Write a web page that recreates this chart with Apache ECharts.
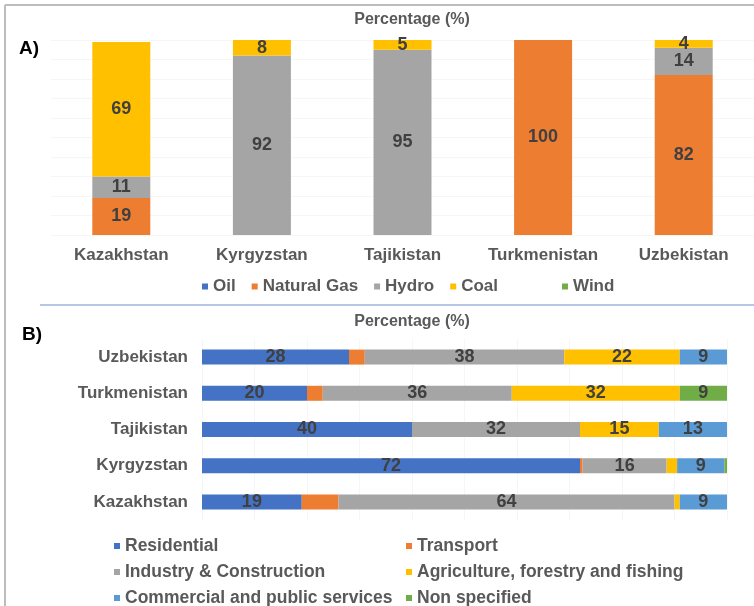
<!DOCTYPE html>
<html>
<head>
<meta charset="utf-8">
<script src="https://cdn.jsdelivr.net/npm/echarts@6/dist/echarts.min.js"></script>
<style>
  html, body { margin: 0; padding: 0; background: #fff; }
  #main { width: 754px; height: 606px; }
</style>
</head>
<body>
<div id="main"></div>
<script>
// 图A：电力来源（按国家）
var countries = ['Kazakhstan', 'Kyrgyzstan', 'Tajikistan', 'Turkmenistan', 'Uzbekistan'];
var oil = [0, 0, 0, 0, 0];
var naturalGas = [19, 0, 0, 100, 82];
var hydro = [11, 92, 95, 0, 14];
var coal = [69, 8, 5, 0, 4];
var wind = [0, 0, 0, 0, 0];

// 图B：终端消费（按部门）
var residential = [19, 72, 40, 20, 28];
var transport = [7, 0.5, 0, 3, 3];
var industry = [64, 16, 32, 36, 38];
var agriculture = [1, 2, 15, 32, 22];
var commercial = [9, 9, 13, 0, 9];
var nonSpecified = [0, 0.5, 0, 9, 0];

var FONT = 'Liberation Sans';
var GREY = '#595959';

var myChart = echarts.init(document.getElementById('main'));

function barA(name, data, color) {
    return {
        type: 'bar', name: name, stack: 'a', xAxisIndex: 0, yAxisIndex: 0,
        data: data, barWidth: 58,
        itemStyle: { color: color },
        label: {
            show: true, position: 'inside',
            color: '#404040', fontFamily: FONT, fontSize: 18, fontWeight: 'bold',
            formatter: function (p) { return p.value > 0 ? p.value : ''; }
        }
    };
}
function barB(name, data, color) {
    return {
        type: 'bar', name: name, stack: 'b', xAxisIndex: 1, yAxisIndex: 1,
        data: data, barWidth: 15,
        itemStyle: { color: color },
        label: {
            show: true, position: 'inside',
            color: '#404040', fontFamily: FONT, fontSize: 18, fontWeight: 'bold',
            formatter: function (p) { return p.value >= 9 ? p.value : ''; }
        }
    };
}

var legendText = { color: GREY, fontFamily: FONT, fontSize: 17, fontWeight: 'bold' };
var legendTextB = { color: GREY, fontFamily: FONT, fontSize: 17.5, fontWeight: 'bold' };
// 单项图例，方便按位置摆放
function oneLegend(name, left, top, ts) {
    return { data: [name], left: left, top: top, icon: 'rect',
             itemWidth: 6, itemHeight: 6, padding: 0, textStyle: ts || legendTextB };
}

option = {
    animation: false,
    backgroundColor: '#fff',
    title: [
        { text: 'Percentage (%)', left: 407, top: 7, textAlign: 'center',
          textStyle: { color: GREY, fontFamily: FONT, fontSize: 16, fontWeight: 'bold' } },
        { text: 'A)', left: 14, top: 34,
          textStyle: { color: '#000', fontFamily: FONT, fontSize: 19, fontWeight: 'bold' } },
        { text: 'Percentage (%)', left: 407, top: 309, textAlign: 'center',
          textStyle: { color: GREY, fontFamily: FONT, fontSize: 16, fontWeight: 'bold' } },
        { text: 'B)', left: 17, top: 320,
          textStyle: { color: '#000', fontFamily: FONT, fontSize: 19, fontWeight: 'bold' } }
    ],
    legend: [
        { data: ['Oil', 'Natural Gas', 'Hydro', 'Coal'], left: 202, top: 278, padding: 0,
          icon: 'rect', itemWidth: 6, itemHeight: 6, itemGap: 16, textStyle: legendText },
        oneLegend('Wind', 562, 278, legendText),
        oneLegend('Residential', 114, 537),
        oneLegend('Industry & Construction', 114, 563),
        oneLegend('Commercial and public services', 114, 589),
        oneLegend('Transport', 406, 537),
        oneLegend('Agriculture, forestry and fishing', 406, 563),
        oneLegend('Non specified', 406, 589)
    ],
    grid: [
        { left: 51, right: -9, top: 40, height: 195 },
        { left: 202, right: 27, top: 339, height: 181 }
    ],
    xAxis: [
        { type: 'category', gridIndex: 0, data: countries,
          axisLine: { show: false }, axisTick: { show: false },
          axisLabel: { interval: 0, color: GREY, fontFamily: FONT, fontSize: 17, fontWeight: 'bold', margin: 12 } },
        { type: 'value', gridIndex: 1, min: 0, max: 100, interval: 10,
          axisLine: { show: false }, axisTick: { show: false }, axisLabel: { show: false },
          splitLine: { show: true, lineStyle: { color: '#f6f6f6' } } }
    ],
    yAxis: [
        { type: 'value', gridIndex: 0, min: 0, max: 100, interval: 10,
          axisLine: { show: false }, axisTick: { show: false }, axisLabel: { show: false },
          splitLine: { show: true, lineStyle: { color: '#f6f6f6' } } },
        { type: 'category', gridIndex: 1, data: countries,
          axisLine: { show: false }, axisTick: { show: false },
          axisLabel: { interval: 0, color: GREY, fontFamily: FONT, fontSize: 17, fontWeight: 'bold', margin: 14 } }
    ],
    graphic: [
        // 外框与分隔线
        { type: 'line', shape: { x1: 5, y1: 5, x2: 754, y2: 5 }, style: { stroke: '#bdbdbd', lineWidth: 2 } },
        { type: 'line', shape: { x1: 5, y1: 5, x2: 5, y2: 606 }, style: { stroke: '#bdbdbd', lineWidth: 2 } },
        { type: 'line', shape: { x1: 40, y1: 305, x2: 754, y2: 305 }, style: { stroke: '#9fb4dc', lineWidth: 1.5 } }
    ],
    series: [
        barA('Oil', oil, '#4472C4'),
        barA('Natural Gas', naturalGas, '#ED7D31'),
        barA('Hydro', hydro, '#A5A5A5'),
        barA('Coal', coal, '#FFC000'),
        barA('Wind', wind, '#70AD47'),
        barB('Residential', residential, '#4472C4'),
        barB('Transport', transport, '#ED7D31'),
        barB('Industry & Construction', industry, '#A5A5A5'),
        barB('Agriculture, forestry and fishing', agriculture, '#FFC000'),
        barB('Commercial and public services', commercial, '#5B9BD5'),
        barB('Non specified', nonSpecified, '#70AD47')
    ]
};
myChart.setOption(option);
</script>
</body>
</html>
